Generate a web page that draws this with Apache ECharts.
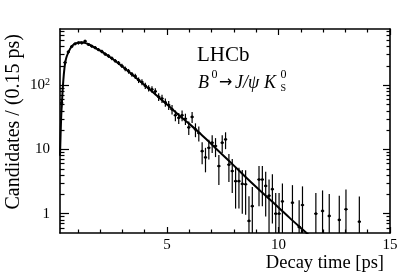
<!DOCTYPE html>
<html><head><meta charset="utf-8">
<script src="https://cdn.jsdelivr.net/npm/echarts@6/dist/echarts.min.js"></script>
<style>html,body{margin:0;padding:0;background:#fff}#c{width:411px;height:279px}</style>
</head><body><div id="c"></div>
<script>
// Data points: bin centres (ps), sWeighted candidates per 0.15 ps, and their errors
const times = [0.275,0.425,0.575,0.725,0.875,1.025,1.175,1.325,1.475,1.625,1.775,1.925,2.075,2.225,2.375,2.525,2.675,2.825,2.975,3.125,3.275,3.425,3.575,3.725,3.875,4.025,4.175,4.325,4.475,4.625,4.775,4.925,5.075,5.225,5.375,5.525,5.675,5.825,5.975,6.125,6.275,6.425,6.575,6.725,6.875,7.025,7.175,7.325,7.475,7.625,7.775,7.925,8.075,8.225,8.375,8.525,8.675,8.825,9.125,9.275,9.425,9.575,9.725,9.875,10.025,10.175,10.625,10.925,11.075,11.675,11.975,12.275,12.725,13.025,13.625];
const counts = [53,225,330,400,440,455,455,485,430,405,385,358,335,305,285,262,240,222,200,180,165,148,138,120,112,98,90,86,80,66,62,54,49,42,34,31,34,30,22,32,20.5,18,9.4,7.5,10.6,12.7,11.3,5.5,12.7,14.3,5.8,4.6,3.2,3.2,2.9,2.86,0.77,1.31,3.4,3.4,2.7,1.9,2.4,1.0,1.0,1.55,1.48,0.62,1.36,1.0,1.1,0.92,0.8,1.17,0.75];
const errors = [8,16,20,22,23,23,23,24,22,22,21,20,20,19,18,18,17,16,15,15,14,13,13,12,12,11,10,10,10,9,9,8,8,7,6.5,6,6.5,6,5.2,6.2,5,4.7,3.5,3.1,3.6,3.9,3.7,2.7,3.9,4.2,2.7,2.5,2.0,2.0,1.9,1.9,1.1,1.3,2.1,2.1,1.8,1.5,1.7,1.1,1.1,1.4,1.3,1.0,1.3,1.1,1.2,1.1,1.1,1.2,1.1];
const binHalfWidth = 0.075;

// Fit curve
const fitTimes  = [0.2,0.25,0.3,0.35,0.4,0.45,0.5,0.6,0.7,0.8,0.9,1.0,1.1,1.2,1.35,1.5,1.75,2.0,2.5,3.0,3.5,4.0,4.5,5.0,5.5,6.0,6.5,7.0,7.5,8.0,8.5,9.0,9.5,10.0,10.5,11.0,11.5,12.0];
const fitValues = [8,30,65,120,185,240,280,340,390,425,448,460,465,463,452,430,385,345,265,195,140,100,71,50,35,25,17.5,12,8.2,5.6,3.8,2.6,1.8,1.25,0.86,0.6,0.42,0.3];

// Axis ticks
const xMin = 0.2, xMax = 15;
const yMin = 0.5, yMax = 750;
const xMajorTicks = [5,10,15];
const xMinorTicks = [1,2,3,4,6,7,8,9,11,12,13,14];
const yMajorTicks = [1,10,100];
const yMinorTicks = [0.6,0.7,0.8,0.9,2,3,4,5,6,7,8,9,20,30,40,50,60,70,80,90,200,300,400,500,600,700];

const FONT = 'Liberation Serif';
const BLACK = '#000';

function xAxisDef(position, ticks, len, showLabels, showLine) {
  return {
    type: 'value', min: xMin, max: xMax, position: position,
    axisLine: {show: showLine, onZero: false, lineStyle: {color: BLACK, width: 1.6}},
    axisTick: {show: true, inside: true, length: len, customValues: ticks, lineStyle: {color: BLACK, width: 1.2}},
    axisLabel: {show: showLabels, customValues: ticks, color: BLACK, fontFamily: FONT, fontSize: 15, margin: 5},
    splitLine: {show: false}, minorTick: {show: false}, minorSplitLine: {show: false}
  };
}
function yAxisDef(position, ticks, len, showLabels, showLine) {
  return {
    type: 'log', logBase: 10, min: yMin, max: yMax, position: position,
    axisLine: {show: showLine, onZero: false, lineStyle: {color: BLACK, width: 1.6}},
    axisTick: {show: true, inside: true, length: len, customValues: ticks, lineStyle: {color: BLACK, width: 1.2}},
    axisLabel: {
      show: showLabels, customValues: ticks, color: BLACK, fontFamily: FONT, fontSize: 15, margin: 10,
      formatter: function (v) { return Math.round(v) === 100 ? '{n|10}{s|2}' : String(Math.round(v)); },
      rich: {n: {fontFamily: FONT, fontSize: 15, color: BLACK}, s: {fontFamily: FONT, fontSize: 10, color: BLACK, verticalAlign: 'top'}}
    },
    splitLine: {show: false}, minorTick: {show: false}, minorSplitLine: {show: false}
  };
}

const pointData = times.map((t, i) => [t, counts[i], errors[i]]);
const fitData = fitTimes.map((t, i) => [t, fitValues[i]]);

const chart = echarts.init(document.getElementById('c'), null, {renderer: 'canvas'});
chart.setOption({
  animation: false,
  backgroundColor: '#fff',
  grid: {left: 60, right: 21, top: 29, bottom: 46, containLabel: false},
  xAxis: [
    xAxisDef('bottom', xMajorTicks, 6, true, true),
    xAxisDef('bottom', xMinorTicks, 3.5, false, false),
    xAxisDef('top', xMajorTicks, 6, false, true),
    xAxisDef('top', xMinorTicks, 3.5, false, false)
  ],
  yAxis: [
    yAxisDef('left', yMajorTicks, 9, true, true),
    yAxisDef('left', yMinorTicks, 4.5, false, false),
    yAxisDef('right', yMajorTicks, 7, false, true),
    yAxisDef('right', yMinorTicks, 3.5, false, false)
  ],
  series: [
    {
      type: 'custom', xAxisIndex: 0, yAxisIndex: 0, clip: true,
      encode: {x: 0, y: 1},
      data: pointData,
      renderItem: function (params, api) {
        const t = api.value(0), v = api.value(1), e = api.value(2);
        const top = api.coord([t, v + e]);
        const bot = api.coord([t, Math.max(v - e, yMin)]);
        const c = api.coord([t, v]);
        const l = api.coord([t - binHalfWidth, v]);
        const r = api.coord([t + binHalfWidth, v]);
        return {type: 'group', children: [
          {type: 'line', shape: {x1: top[0], y1: top[1], x2: bot[0], y2: bot[1]}, style: {stroke: BLACK, lineWidth: 1.2}},
          {type: 'line', shape: {x1: l[0], y1: l[1], x2: r[0], y2: r[1]}, style: {stroke: BLACK, lineWidth: 1.3}},
          {type: 'circle', shape: {cx: c[0], cy: c[1], r: 1.4}, style: {fill: BLACK}}
        ]};
      },
      z: 3
    },
    {
      type: 'line', xAxisIndex: 0, yAxisIndex: 0, data: fitData, smooth: 0.3,
      showSymbol: false, symbol: 'none', clip: true,
      lineStyle: {color: BLACK, width: 2}, z: 4
    }
  ],
  graphic: [
    {type: 'text', x: 14, y: 34, rotation: Math.PI / 2,
     style: {text: 'Candidates / (0.15 ps)', fontFamily: FONT, fontSize: 20, fill: BLACK, align: 'right', verticalAlign: 'middle'}},
    {type: 'text', x: 384, y: 263,
     style: {text: 'Decay time [ps]', fontFamily: FONT, fontSize: 18.5, fill: BLACK, align: 'right', verticalAlign: 'middle'}},
    {type: 'text', x: 197, y: 55.5,
     style: {text: 'LHCb', fontFamily: FONT, fontSize: 21, fill: BLACK, align: 'left', verticalAlign: 'middle'}},
    {type: 'text', x: 198, y: 83,
     style: {text: 'B', fontFamily: FONT, fontSize: 18, fontStyle: 'italic', fill: BLACK, align: 'left', verticalAlign: 'middle'}},
    {type: 'text', x: 211.5, y: 75,
     style: {text: '0', fontFamily: FONT, fontSize: 12, fill: BLACK, align: 'left', verticalAlign: 'middle'}},
    {type: 'text', x: 219, y: 83,
     style: {text: '→', fontFamily: 'DejaVu Sans', fontSize: 16, fill: BLACK, align: 'left', verticalAlign: 'middle'}},
    {type: 'text', x: 235, y: 83,
     style: {text: 'J/ψ', fontFamily: FONT, fontSize: 18, fontStyle: 'italic', fill: BLACK, align: 'left', verticalAlign: 'middle'}},
    {type: 'text', x: 264, y: 83,
     style: {text: 'K', fontFamily: FONT, fontSize: 18, fontStyle: 'italic', fill: BLACK, align: 'left', verticalAlign: 'middle'}},
    {type: 'text', x: 280.5, y: 75,
     style: {text: '0', fontFamily: FONT, fontSize: 12, fill: BLACK, align: 'left', verticalAlign: 'middle'}},
    {type: 'text', x: 280.5, y: 88,
     style: {text: 'S', fontFamily: FONT, fontSize: 10, fill: BLACK, align: 'left', verticalAlign: 'middle'}}
  ]
});
</script>
</body></html>
